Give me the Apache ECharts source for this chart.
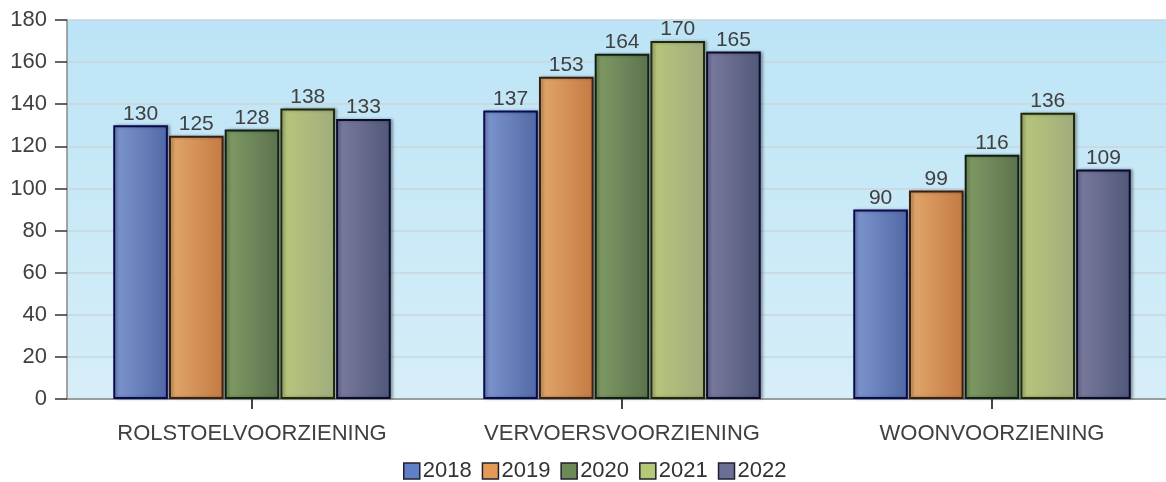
<!DOCTYPE html>
<html><head><meta charset="utf-8">
<script src="https://cdn.jsdelivr.net/npm/echarts@6/dist/echarts.min.js"></script>
<style>html,body{margin:0;padding:0;background:#fff;overflow:hidden;width:1166px;height:482px;}#c{width:1177px;height:482px;}</style>
</head><body><div id="c"></div>
<script>
const categories = ['ROLSTOELVOORZIENING','VERVOERSVOORZIENING','WOONVOORZIENING'];
const years = ['2018','2019','2020','2021','2022'];
const v2018 = [130,137,90];
const v2019 = [125,153,99];
const v2020 = [128,164,116];
const v2021 = [138,170,136];
const v2022 = [133,165,109];
const yTicks = [0,20,40,60,80,100,120,140,160,180];
const values = [v2018,v2019,v2020,v2021,v2022];
const palettes = [
  {l:'#7f97d0', r:'#5069a6', b:'#0a0a50', leg:'#5f80c4'},
  {l:'#e2a86c', r:'#c47a43', b:'#3a2010', leg:'#e39a55'},
  {l:'#819c65', r:'#5c724e', b:'#102010', leg:'#6b8a55'},
  {l:'#b8c77c', r:'#a0ac7c', b:'#20280a', leg:'#b4c878'},
  {l:'#7c7ca0', r:'#505878', b:'#0a0a30', leg:'#6b6f96'}
];
const chart = echarts.init(document.getElementById('c'));
const font = 'Liberation Sans, Arial, sans-serif';
chart.setOption({
  animation:false,
  grid:{left:67, top:20, right:0, bottom:83, show:true, borderWidth:0,
    backgroundColor:{type:'linear',x:0,y:0,x2:0,y2:1,colorStops:[{offset:0,color:'#bce4f6'},{offset:1,color:'#d6eef8'}]}},
  legend:{top:455, left:398, itemWidth:16, itemHeight:16, itemGap:10, icon:'rect',
    textStyle:{fontSize:22, color:'#333', fontFamily:font, padding:[0,0,0,-2]},
    data: years.map((y,i)=>({name:y, itemStyle:{color:palettes[i].leg, borderColor:'#202030', borderWidth:1.5}}))},
  xAxis:{type:'category', data:categories,
    axisLine:{lineStyle:{color:'#888', width:1.5}},
    axisTick:{show:true, alignWithLabel:true, length:10, lineStyle:{color:'#444', width:2}},
    axisLabel:{fontSize:22, color:'#404040', fontFamily:font, margin:24}},
  yAxis:{type:'value', min:0, max:180, interval:20,
    axisLine:{show:true, lineStyle:{color:'#888', width:1.5}},
    axisTick:{show:true, length:12, lineStyle:{color:'#333', width:1.5}},
    axisLabel:{fontSize:22, color:'#404040', fontFamily:font, margin:20,
      formatter:v=>yTicks.includes(v)?String(v):''},
    splitLine:{lineStyle:{color:'#c9d6dc', width:1.5}}},
  series: years.map((y,i)=>({
    name:y, type:'bar', data:values[i], barGap:'2%', barCategoryGap:'25%',
    itemStyle:{
      color:{type:'linear',x:0,y:0,x2:1,y2:0,colorStops:[{offset:0,color:palettes[i].l},{offset:1,color:palettes[i].r}]},
      borderColor:palettes[i].b, borderWidth:2,
      shadowColor:'rgba(0,0,0,0.3)', shadowBlur:3, shadowOffsetX:2, shadowOffsetY:0},
    label:{show:true, position:'top', distance:1, fontSize:21, color:'#404040', fontFamily:font}
  }))
});
</script></body></html>
